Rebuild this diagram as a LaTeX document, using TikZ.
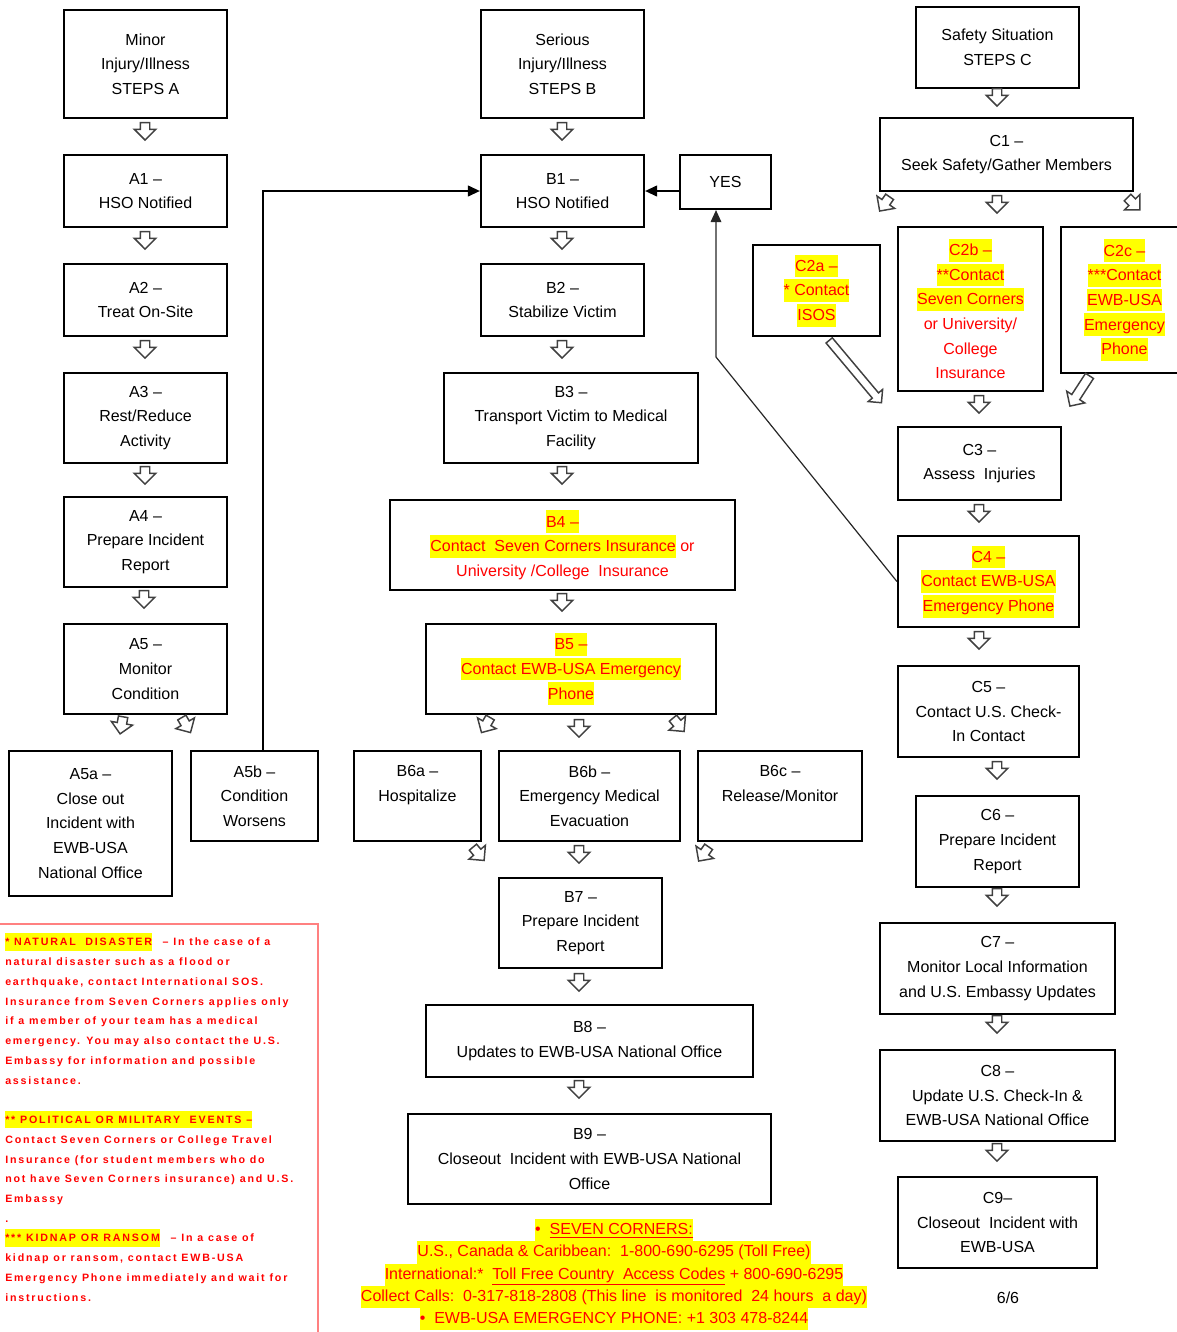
\documentclass[tikz,border=0pt]{standalone}
\usepackage{fontspec}
\setmainfont{Liberation Sans}
\newfontfamily\notefont[LetterSpace=17]{Liberation Sans}
\usetikzlibrary{shapes.arrows}
\usetikzlibrary{arrows.meta}
\usetikzlibrary{positioning}

\definecolor{hly}{RGB}{255,255,0}
\definecolor{notered}{RGB}{255,128,128}
\newcommand{\hlt}[1]{{\setlength{\fboxsep}{0pt}\colorbox{hly}{\rule[-4.5pt]{0pt}{17pt}\textcolor{red}{#1}}}}
\newcommand{\hln}[1]{{\setlength{\fboxsep}{0pt}\colorbox{hly}{\rule[-3.5pt]{0pt}{13pt}#1}}}
\newcommand{\hlb}[1]{{\setlength{\fboxsep}{0pt}\colorbox{hly}{\rule[-5pt]{0pt}{16.6pt}#1}}}

\begin{document}
\begin{tikzpicture}[x=0.75pt,y=0.75pt,yscale=-1,xscale=1,
    box/.style={draw, line width=1.6pt, align=center, inner sep=0pt, font=\fontsize{12}{18.5}\selectfont},
    barrow/.style={single arrow, draw=black!75, line width=1.1pt, fill=white, inner xsep=0pt, inner ysep=3pt, minimum width=0pt, minimum height=13pt, single arrow head extend=4.5pt},
    conn/.style={line width=1.5pt, -{Triangle[length=9pt,width=8pt]}},
    thinconn/.style={line width=0.9pt, draw=black!85, -{Triangle[length=9pt,width=8pt]}}]
    \useasboundingbox (0,0) rectangle (1177,1332);

    % steps A
    \node[box, minimum width=122.25pt, minimum height=81pt] (minor) at (145.5,64) {Minor\\Injury/Illness\\STEPS A};
    \node[box, minimum width=122.25pt, minimum height=54pt] (a1) at (145.5,191) {A1 –\\HSO Notified};
    \node[box, minimum width=122.25pt, minimum height=54pt] (a2) at (145.5,300) {A2 –\\Treat On-Site};
    \node[box, minimum width=122.25pt, minimum height=67.5pt] (a3) at (145.5,418) {A3 –\\Rest/Reduce\\Activity};
    \node[box, minimum width=122.25pt, minimum height=67.5pt] (a4) at (145.5,542) {A4 –\\Prepare Incident\\Report};
    \node[box, minimum width=122.25pt, minimum height=67.5pt] (a5) at (145.5,669) {A5 –\\Monitor\\Condition};
    \node[box, minimum width=122.25pt, minimum height=108.75pt] (a5a) at (90.5,823.5) {A5a –\\Close out\\Incident with\\EWB-USA\\National Office};
    \node[box, minimum width=95.25pt, minimum height=67.5pt] (a5b) at (254.5,796) {A5b –\\Condition\\Worsens};

    % steps B
    \node[box, minimum width=122.25pt, minimum height=81pt] (serious) at (562.5,64) {Serious\\Injury/Illness\\STEPS B};
    \node[box, minimum width=122.25pt, minimum height=54pt] (b1) at (562.5,191) {B1 –\\HSO Notified};
    \node[box, minimum width=68.25pt, minimum height=40.5pt] (yes) at (725.5,182) {YES};
    \node[box, minimum width=122.25pt, minimum height=54pt] (b2) at (562.5,300) {B2 –\\Stabilize Victim};
    \node[box, minimum width=190.5pt, minimum height=67.5pt] (b3) at (571,418) {B3 –\\Transport Victim to Medical\\Facility};
    \node[box, minimum width=258.75pt, minimum height=67.5pt] (b4) at (562.5,545) {\hlt{B4 –}\\\hlt{Contact\ \ Seven Corners Insurance}~\textcolor{red}{or}\\\textcolor{red}{University /College\ \ Insurance}};
    \node[box, minimum width=217.5pt, minimum height=67.5pt] (b5) at (571,669) {\hlt{B5 –}\\\hlt{Contact EWB-USA Emergency}\\\hlt{Phone}};
    \node[box, minimum width=95.25pt, minimum height=67.5pt] (b6a) at (417.5,796) {B6a –\\Hospitalize\\\mbox{}};
    \node[box, minimum width=135.75pt, minimum height=67.5pt] (b6b) at (589.5,796) {B6b –\\Emergency Medical\\Evacuation};
    \node[box, minimum width=123pt, minimum height=67.5pt] (b6c) at (780,796) {B6c –\\Release/Monitor\\\mbox{}};
    \node[box, minimum width=122.25pt, minimum height=67.5pt] (b7) at (580.5,923) {B7 –\\Prepare Incident\\Report};
    \node[box, minimum width=245.25pt, minimum height=54pt] (b8) at (589.5,1041) {B8 –\\Updates to EWB-USA National Office};
    \node[box, minimum width=272.25pt, minimum height=67.5pt] (b9) at (589.5,1159) {B9 –\\Closeout\ \ Incident with EWB-USA National\\Office};

    % steps C
    \node[box, minimum width=122.25pt, minimum height=60.75pt] (safety) at (997.5,47.5) {Safety Situation\\STEPS C};
    \node[box, minimum width=189.75pt, minimum height=54.75pt] (c1) at (1006.5,154.5) {C1 –\\Seek Safety/Gather Members};
    \node[box, minimum width=95.25pt, minimum height=68.25pt] (c2a) at (816.5,290.5) {\hlt{C2a –}\\\hlt{* Contact}\\\hlt{ISOS}};
    \node[box, minimum width=108.75pt, minimum height=123pt] (c2b) at (970.5,309) {\hlt{C2b –}\\\hlt{**Contact}\\\hlt{Seven Corners}\\\textcolor{red}{or University/}\\\textcolor{red}{College}\\\textcolor{red}{Insurance}};
    \node[box, minimum width=95.25pt, minimum height=109.5pt] (c2c) at (1124.5,300) {\hlt{C2c –}\\\hlt{***Contact}\\\hlt{EWB-USA}\\\hlt{Emergency}\\\hlt{Phone}};
    \node[box, minimum width=122.25pt, minimum height=54.75pt] (c3) at (979.5,463.5) {C3 –\\Assess\ \ Injuries};
    \node[box, minimum width=135.75pt, minimum height=68.25pt] (c4) at (988.5,581.5) {\hlt{C4 –}\\\hlt{Contact EWB-USA}\\\hlt{Emergency Phone}};
    \node[box, minimum width=135.75pt, minimum height=68.25pt] (c5) at (988.5,711.5) {C5 –\\Contact U.S. Check-\\In Contact};
    \node[box, minimum width=122.25pt, minimum height=68.25pt] (c6) at (997.5,841.5) {C6 –\\Prepare Incident\\Report};
    \node[box, minimum width=176.25pt, minimum height=68.25pt] (c7) at (997.5,968.5) {C7 –\\Monitor Local Information\\and U.S. Embassy Updates};
    \node[box, minimum width=176.25pt, minimum height=68.25pt] (c8) at (997.5,1095.5) {C8 –\\Update U.S. Check-In \&\\EWB-USA National Office};
    \node[box, minimum width=149.25pt, minimum height=68.25pt] (c9) at (997.5,1222.5) {C9–\\Closeout\ \ Incident with\\EWB-USA};
    \node[font=\fontsize{12}{14}\selectfont] (pagenum) at (1008,1298) {6/6};

    % block arrows
    \foreach \x/\y/\r [count=\i] in {145/129/-90, 145/238/-90, 145/347/-90, 145/473/-90, 144/597/-90,
            122/723/-100, 185/723/-60,
            562/129/-90, 562/238/-90, 562/347/-90, 562/473/-90, 562/600/-90,
            487/723/-120, 579/726/-90, 677/723/-50,
            477/852/-50, 579/852/-90, 705/852/-125, 579/980/-90, 579/1087/-90,
            997/95/-90, 886/202/-125, 997/202/-90, 1132/202/-45,
            979/402/-90, 979/511/-90, 979/638/-90, 997/768/-90, 997/895/-90, 997/1022/-90, 997/1150/-90}
        \node[barrow, rotate=\r] (blk\i) at (\x,\y) {};
    \node[barrow, rotate=-50, minimum height=61pt, inner ysep=2.5pt, single arrow head extend=4pt] (blkisos) at (854,370) {};
    \node[barrow, rotate=-123, minimum height=27pt] (blkphone) at (1081,389) {};

    % connectors
    \draw[conn] ([xshift=6.4pt]a5b.north) |- (b1.west);
    \draw[conn] (yes.west |- b1.east) -- (b1.east);
    \coordinate (kink) at (716,357);
    \draw[thinconn] (c4.west) -- (kink) -- (kink |- yes.south);

    % notes
    \draw[notered, line width=2.2pt] (-5,924) -- (318,924) -- (318,1340);
    \node[anchor=north west, align=left, inner sep=0pt, text=red, font=\notefont\bfseries\fontsize{8}{14.8}\selectfont] (notes) at (5,933) {\hln{* NATURAL\ \ DISASTER}\quad – In the case of a\\
        natural disaster such as a flood or\\
        earthquake, contact International SOS.\\
        Insurance from Seven Corners applies only\\
        if a member of your team has a medical\\
        emergency. You may also contact the U.S.\\
        Embassy for information and possible\\
        assistance.\\[14.8pt]
        \hln{** POLITICAL OR MILITARY\ \ EVENTS –}\\
        Contact Seven Corners or College Travel\\
        Insurance (for student members who do\\
        not have Seven Corners insurance) and U.S.\\
        Embassy\\
        .\\
        \hln{*** KIDNAP OR RANSOM}\quad – In a case of\\
        kidnap or ransom, contact EWB-USA\\
        Emergency Phone immediately and wait for\\
        instructions.};
    \node[anchor=north, align=center, inner sep=0pt, text=red, font=\fontsize{12}{16.6}\selectfont] (phones) at (614,1219) {\hlb{\textbullet\ \ \underline{SEVEN CORNERS:}}\\
        \hlb{U.S., Canada \& Caribbean:\ \ 1-800-690-6295 (Toll Free)}\\
        \hlb{International:*\ \ \underline{Toll Free Country\ \ Access Codes} + 800-690-6295}\\
        \hlb{Collect Calls:\ \ 0-317-818-2808 (This line\ \ is monitored\ \ 24 hours\ \ a day)}\\
        \hlb{\textbullet\ \ EWB-USA EMERGENCY PHONE: +1 303 478-8244}};
\end{tikzpicture}
\end{document}
